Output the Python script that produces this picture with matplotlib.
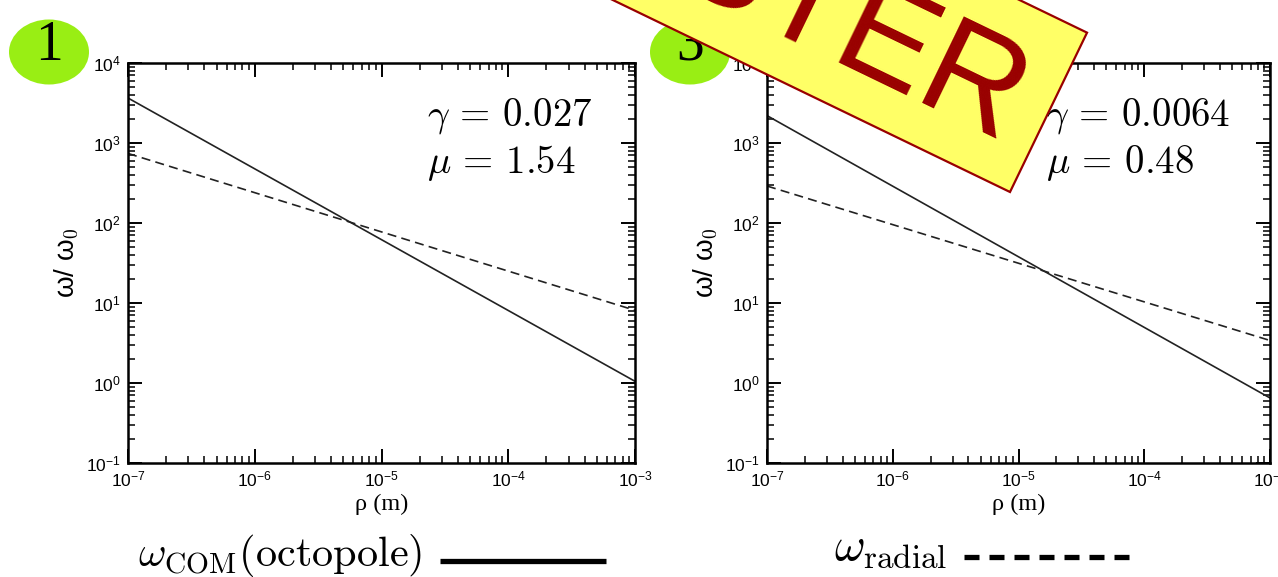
import matplotlib
matplotlib.use("Agg")
import matplotlib.pyplot as plt
from matplotlib.ticker import LogLocator, NullFormatter
from matplotlib.patches import Ellipse, Polygon
from matplotlib.lines import Line2D
import numpy as np

plt.rcParams['font.family'] = ['Liberation Sans', 'DejaVu Sans']
plt.rcParams['mathtext.fontset'] = 'cm'
plt.rcParams['lines.scale_dashes'] = False

# ---- data ----
rho = [1e-7, 1e-3]
left_com = [3650, 1.05]
left_radial = [740, 8.1]
right_com = [2200, 0.65]
right_radial = [290, 3.4]
left_params = [r'$\gamma\,=\,0.027$', r'$\mu\,=\,1.54$']
right_params = [r'$\gamma\,=\,0.0064$', r'$\mu\,=\,0.48$']
panel_numbers = ['1', '3']
xlim = (1e-7, 1e-3)
ylim = (1e-1, 1e4)

W, H = 1278, 577
fig = plt.figure(figsize=(W / 100, H / 100), dpi=100)
fig.patch.set_facecolor('white')


def P(x, y):
    return (x / W, 1 - y / H)


def make_axes(rect, com, radial, params, tx):
    ax = fig.add_axes(rect)
    ax.set_xscale('log')
    ax.set_yscale('log')
    ax.plot(rho, com, color='#222222', lw=1.2, solid_capstyle='butt')
    ax.plot(rho, radial, color='#222222', lw=1.2, dashes=(6.5, 3.8))
    ax.set_xlim(*xlim)
    ax.set_ylim(*ylim)
    for a in (ax.xaxis, ax.yaxis):
        a.set_major_locator(LogLocator(base=10, numticks=20))
        a.set_minor_locator(LogLocator(base=10, subs=np.arange(2, 10), numticks=20))
        a.set_minor_formatter(NullFormatter())
    ax.tick_params(which='major', direction='in', length=10, width=1.4,
                   top=True, right=True, labelsize=12.5, pad=5)
    ax.tick_params(which='minor', direction='in', length=5, width=1.1,
                   top=True, right=True)
    for s in ax.spines.values():
        s.set_linewidth(1.8)
    ax.set_xlabel('ρ (m)', fontsize=17.5, family='Liberation Serif', labelpad=3)
    ax.set_ylabel(r'ω/ ω$_\mathsf{0}$', fontsize=20, labelpad=4)
    ax.text(tx, 0.845, params[0], transform=ax.transAxes, fontsize=28,
            va='baseline', ha='left')
    ax.text(tx, 0.725, params[1], transform=ax.transAxes, fontsize=28,
            va='baseline', ha='left')
    return ax


axL = make_axes([128 / W, (H - 463) / H, 507 / W, 400 / H],
                left_com, left_radial, left_params, 0.59)
axR = make_axes([767 / W, (H - 463) / H, 503 / W, 400 / H],
                right_com, right_radial, right_params, 0.555)

# ---- green number badges ----
green = '#99ee14'
for (cx, cy), num in zip([(49, 52), (690, 52)], panel_numbers):
    e = Ellipse(P(cx, cy), 80 / W, 65 / H, transform=fig.transFigure,
                facecolor=green, edgecolor='none', zorder=1)
    fig.add_artist(e)
    fig.text(*P(cx, cy - 6), num, fontsize=40, family='Liberation Serif',
             ha='center', va='center', zorder=3)

# ---- legend ----
fig.text(*P(422, 566), r'$\omega_{\mathrm{COM}}(\mathrm{octopole})$',
         fontsize=30.5, ha='right', va='baseline')
fig.add_artist(Line2D([440 / W, 606 / W], [1 - 561 / H, 1 - 561 / H],
                      transform=fig.transFigure, color='black', lw=3.8,
                      solid_capstyle='butt'))
fig.text(*P(834, 560), r'$\omega_{\mathrm{radial}}$',
         fontsize=34, ha='left', va='baseline')
fig.add_artist(Line2D([964 / W, 1131 / W], [1 - 557 / H, 1 - 557 / H],
                      transform=fig.transFigure, color='black', lw=3.8,
                      dashes=(10.8, 7.2), dash_capstyle='butt'))

# ---- POSTER banner ----
ang = np.deg2rad(25.8)
u = np.array([np.cos(ang), np.sin(ang)])      # along banner (image coords, y down)
n = np.array([np.sin(ang), -np.cos(ang)])     # across banner
B = np.array([1010.0, 192.0])
A = B - 700 * u
C = B + 177 * n
D = A + 177 * n
poly = Polygon([P(*A), P(*B), P(*C), P(*D)], closed=True,
               transform=fig.transFigure, facecolor='#ffff66',
               edgecolor='#990000', lw=1.6, zorder=5)
fig.add_artist(poly)
fig.text(*P(1001, 147), 'POSTER', fontsize=100, color='#990000',
         rotation=-25.8, rotation_mode='anchor', ha='right', va='baseline',
         zorder=6)

fig.savefig('out.png', dpi=100)
